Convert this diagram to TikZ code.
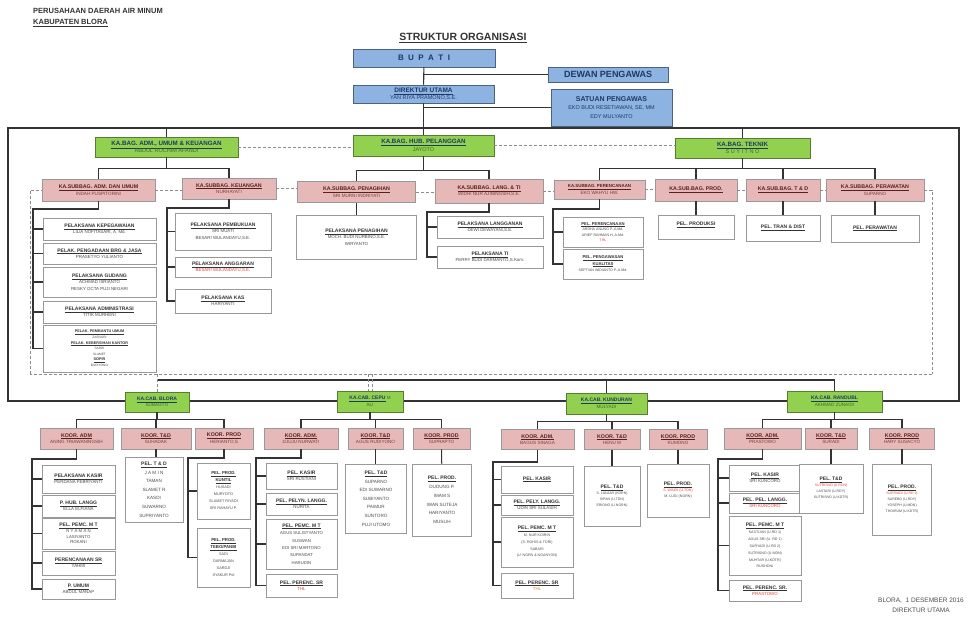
\documentclass[tikz,border=0pt]{standalone}
\usepackage{fontspec}
\setmainfont{Liberation Sans}
\usetikzlibrary{positioning,calc}
\definecolor{bupblue}{HTML}{8DB3E2}
\definecolor{bagreen}{HTML}{92D050}
\definecolor{subpink}{HTML}{E6B9B8}
\definecolor{navytxt}{HTML}{1F3864}
\definecolor{greentxt}{HTML}{3A6B28}
\definecolor{pinktxt}{HTML}{5A1F1D}
\definecolor{pinknm}{HTML}{7A3B39}
\definecolor{redtxt}{HTML}{E0443C}
\definecolor{orgtxt}{HTML}{D98A1E}
\newcommand{\ttlsz}{}
\newcommand{\jbt}[1]{{\ttlsz\color{ttl}\underline{\textbf{#1}}}}
\newcommand{\merah}[1]{\textcolor{redtxt}{#1}}

\begin{document}
\begin{tikzpicture}[x=1pt,y=1pt,
 conn/.style={draw=black!80,line width=1.1pt},
 koord/.style={draw=black!45,densely dashed,line width=0.6pt},
 bluebox/.style={draw=bupblue!55!black,fill=bupblue,text=navytxt,align=center,inner sep=1pt,line width=0.5pt,
   execute at begin node={\colorlet{ttl}{navytxt}\def\ttlsz{\fontsize{6.5}{7}\selectfont}}},
 greenbox/.style={draw=bagreen!60!black,fill=bagreen,text=greentxt,align=center,inner sep=1pt,line width=0.5pt,
   font=\fontsize{5.5}{7.5}\selectfont,execute at begin node={\colorlet{ttl}{navytxt}\def\ttlsz{\fontsize{6.2}{7}\selectfont}}},
 pinkbox/.style={draw=black!40,fill=subpink,text=pinknm,align=center,inner sep=1pt,line width=0.5pt,
   font=\fontsize{4.6}{6.5}\selectfont,execute at begin node={\colorlet{ttl}{pinktxt}\def\ttlsz{\fontsize{5.3}{6}\selectfont}}},
 pelbox/.style={draw=black!40,fill=white,text=black!70,align=center,inner sep=1pt,line width=0.6pt,
   font=\fontsize{4.4}{6.3}\selectfont,execute at begin node={\colorlet{ttl}{black!80}\def\ttlsz{\fontsize{5}{6}\selectfont}}}]
\useasboundingbox (0,0) rectangle (969,-626);
\coordinate (ftl) at (8,-128);
\coordinate (fbr) at (959,-401);
\coordinate (kr) at (932,-374);
\coordinate (kl) at (30,-374);
\coordinate (hl) at (157,-380);
\coordinate (hr) at (834.5,-380);
\draw[conn] (ftl) rectangle (fbr);
\draw[koord] (kr) -- (kl);
\draw[conn] (hl) -- (hr);

\node[font=\fontsize{7.5}{11}\selectfont\bfseries,text=black!80,align=left,anchor=north west,inner sep=0] (pdam) at (33,-8) {PERUSAHAAN DAERAH AIR MINUM\\\underline{KABUPATEN BLORA}};
\node[font=\fontsize{10.5}{12}\selectfont\bfseries,text=black!80] (judul) at (463,-38) {\underline{STRUKTUR ORGANISASI}};
\node[bluebox,minimum width=142,minimum height=18,font=\fontsize{8}{9}\selectfont\bfseries] (bupati) at (424,-58) {B~~U~~P~~A~~T~~I};
\node[bluebox,minimum width=120,minimum height=15,font=\fontsize{9}{10}\selectfont\bfseries] (dewan) at (608,-74.5) {DEWAN PENGAWAS};
\node[bluebox,minimum width=141,minimum height=18,font=\fontsize{5.5}{7}\selectfont] (dirut) at (423.5,-94) {\jbt{DIREKTUR UTAMA}\\YAN RIYA PRAMONO,S.E.};
\node[bluebox,minimum width=121,minimum height=37,font=\fontsize{5.5}{8.5}\selectfont] (satuan) at (611.5,-107.5) {{\fontsize{7}{8}\selectfont\bfseries SATUAN PENGAWAS}\\EKO BUDI RESETIAWAN, SE, MM\\EDY MULYANTO};

\node[greenbox,minimum width=143,minimum height=20] (badm) at (166.5,-147) {\jbt{KA.BAG. ADM., UMUM \& KEUANGAN}\\ABDUL ROCHIM AFANDI};
\node[greenbox,minimum width=141,minimum height=21] (bhub) at (423.5,-145.5) {\jbt{KA.BAG. HUB. PELANGGAN}\\JAYOTO};
\node[greenbox,minimum width=135,minimum height=20] (btek) at (742.5,-148) {\jbt{KA.BAG. TEKNIK}\\S U Y I T N O};

\node[pinkbox,minimum width=113,minimum height=22] (sadm) at (98.5,-190) {\jbt{KA.SUBBAG. ADM. DAN UMUM}\\INDAH PUSPITORINI};
\node[pinkbox,minimum width=94,minimum height=21] (skeu) at (229,-188.5) {\jbt{KA.SUBBAG. KEUANGAN}\\NURHAYATI};
\node[pinkbox,minimum width=118,minimum height=21] (stag) at (356.5,-192) {\jbt{KA.SUBBAG. PENAGIHAN}\\SRI MURNI INDRIYATI};
\node[pinkbox,minimum width=108,minimum height=24] (slang) at (489,-191) {\jbt{KA.SUBBAG. LANG. \& TI}\\WIDHI NUR AJININGSIH,S.E.};
\node[pinkbox,minimum width=91,minimum height=19,execute at begin node={\def\ttlsz{\fontsize{4.4}{5}\selectfont}}] (sren) at (599.5,-189.5) {\jbt{KA.SUBBAG. PERENCANAAN}\\EKO WAHYU HW.};
\node[pinkbox,minimum width=82,minimum height=22] (sprod) at (696,-190) {\jbt{KA.SUB.BAG. PROD.}};
\node[pinkbox,minimum width=74,minimum height=22] (std) at (783,-190) {\jbt{KA.SUB.BAG. T \& D}};
\node[pinkbox,minimum width=98,minimum height=22] (srwt) at (875,-190) {\jbt{KA.SUBBAG. PERAWATAN}\\SUPARNO};

\node[pelbox,minimum width=113,minimum height=22] (padm1) at (99.5,-229) {\jbt{PELAKSANA KEPEGAWAIAN}\\LILIA NOFITASARI, A. Md.};
\node[pelbox,minimum width=113,minimum height=21] (padm2) at (99.5,-253.5) {\jbt{PELAK. PENGADAAN BRG \& JASA}\\PRASETYO YULIANTO};
\node[pelbox,minimum width=113,minimum height=30] (padm3) at (99.5,-282) {\jbt{PELAKSANA GUDANG}\\ACHMAD ISRIANTO\\RESKY OCTA PUJI NEGARI};
\node[pelbox,minimum width=113,minimum height=22] (padm4) at (99.5,-312) {\jbt{PELAKSANA ADMINISTRASI}\\TITIK MURHENI};
\node[pelbox,minimum width=113,minimum height=47,font=\fontsize{3.2}{5.6}\selectfont,execute at begin node={\def\ttlsz{\fontsize{3.8}{4}\selectfont}}] (padm5) at (99.5,-348.5) {\jbt{PELAK. PEMBANTU UMUM}\\ZAENURI\\\jbt{PELAK. KEBERSIHAN KANTOR}\\SARDI\\SLAMET\\\jbt{SOPIR}\\BUDIYONO};
\node[pelbox,minimum width=96,minimum height=37] (pkeu1) at (223,-231.5) {\jbt{PELAKSANA PEMBUKUAN}\\SRI MUATI\\BESARI WULANDAYU,S.E.};
\node[pelbox,minimum width=96,minimum height=20] (pkeu2) at (223,-267) {\jbt{PELAKSANA ANGGARAN}\\\merah{BESARI WULANDAYU,S.E.}};
\node[pelbox,minimum width=96,minimum height=24] (pkeu3) at (223,-301) {\jbt{PELAKSANA KAS}\\HARIYANTI};
\node[pelbox,minimum width=120,minimum height=44] (ptag) at (356.5,-237) {\jbt{PELAKSANA PENAGIHAN}\\MOCH. BUDI NURBINO,S.E.\\WIRYANTO};
\node[pelbox,minimum width=106,minimum height=22] (plang1) at (490,-227) {\jbt{PELAKSANA LANGGANAN}\\DEWI DEWAYANI,S.E.};
\node[pelbox,minimum width=106,minimum height=22] (plang2) at (490,-257) {\jbt{PELAKSANA TI}\\FERRY BUDI DARMANTO,S.Kom.};
\node[pelbox,minimum width=80,minimum height=30,font=\fontsize{3.6}{5.6}\selectfont,execute at begin node={\def\ttlsz{\fontsize{4.2}{5}\selectfont}}] (pren1) at (603,-232) {\jbt{PEL. PERENCANAAN}\\ARDHA ANUNG P.,A.Md.\\ARIEF RAHMAN H.,A.Md.\\\merah{THL}};
\node[pelbox,minimum width=80,minimum height=30,font=\fontsize{3.6}{6.5}\selectfont,execute at begin node={\def\ttlsz{\fontsize{4.2}{5}\selectfont}}] (pren2) at (603,-264) {\jbt{PEL. PENGAWASAN}\\\jbt{KUALITAS}\\SEPTIAN WIDIANTO P.,A.Md.};
\node[pelbox,minimum width=76,minimum height=24] (pprod) at (696,-227) {\jbt{PEL. PRODUKSI}\\-};
\node[pelbox,minimum width=74,minimum height=26] (ptd) at (783,-228) {\jbt{PEL. TRAN \& DIST}};
\node[pelbox,minimum width=88,minimum height=27] (prwt) at (875,-228.5) {\jbt{PEL. PERAWATAN}};

\node[greenbox,minimum width=64,minimum height=20,font=\fontsize{4.6}{6.5}\selectfont,execute at begin node={\def\ttlsz{\fontsize{5}{6}\selectfont}}] (cblora) at (157,-402) {\jbt{KA.CAB. BLORA}\\SUBAGYO};
\node[greenbox,minimum width=66,minimum height=21,font=\fontsize{4.6}{6.5}\selectfont,execute at begin node={\def\ttlsz{\fontsize{5}{6}\selectfont}}] (ccepu) at (370,-401.5) {\jbt{KA.CAB. CEPU} M\\ALI};
\node[greenbox,minimum width=81,minimum height=21,font=\fontsize{4.6}{6.5}\selectfont,execute at begin node={\def\ttlsz{\fontsize{5}{6}\selectfont}}] (ckund) at (606.5,-403.5) {\jbt{KA.CAB. KUNDURAN}\\MULYADI};
\node[greenbox,minimum width=95,minimum height=21,font=\fontsize{4.6}{6.5}\selectfont,execute at begin node={\def\ttlsz{\fontsize{5}{6}\selectfont}}] (crandu) at (834.5,-401.5) {\jbt{KA.CAB. RANDUBL}\\AKHMAD ZUNAIDI};

\node[pinkbox,minimum width=73,minimum height=21] (kadm1) at (76.5,-438.5) {\jbt{KOOR. ADM}\\ANING TRIAWANINGSIH};
\node[pinkbox,minimum width=70,minimum height=21] (ktd1) at (156,-438.5) {\jbt{KOOR. T\&D}\\SUHADAK};
\node[pinkbox,minimum width=58,minimum height=21] (kprod1) at (224,-438.5) {\jbt{KOOR. PROD}\\HERIANTO,S};
\node[pinkbox,minimum width=74,minimum height=21] (kadm2) at (301,-438.5) {\jbt{KOOR. ADM.}\\DJUJU NURWATI};
\node[pinkbox,minimum width=55,minimum height=21] (ktd2) at (375.5,-438.5) {\jbt{KOOR. T\&D}\\AGUS RUDIYONO};
\node[pinkbox,minimum width=57,minimum height=21] (kprod2) at (441.5,-438.5) {\jbt{KOOR. PROD}\\SUPRAPTO};
\node[pinkbox,minimum width=73,minimum height=20] (kadm3) at (537.5,-439.5) {\jbt{KOOR. ADM.}\\BAGUS SINAGA};
\node[pinkbox,minimum width=56,minimum height=20] (ktd3) at (612,-439.5) {\jbt{KOOR. T\&D}\\HENU M};
\node[pinkbox,minimum width=58,minimum height=20] (kprod3) at (678,-439.5) {\jbt{KOOR. PROD}\\KUMONO};
\node[pinkbox,minimum width=77,minimum height=21] (kadm4) at (762.5,-438.5) {\jbt{KOOR. ADM.}\\PRASTOWO};
\node[pinkbox,minimum width=52,minimum height=21] (ktd4) at (831,-438.5) {\jbt{KOOR. T\&D}\\SURADI};
\node[pinkbox,minimum width=65,minimum height=21] (kprod4) at (902,-438.5) {\jbt{KOOR. PROD}\\HARY SUSACYO};

\node[pelbox,minimum width=73,minimum height=28] (b1) at (78.5,-479) {\jbt{PELAKSANA KASIR}\\PERDANA FEBRIYANTI};
\node[pelbox,minimum width=73,minimum height=22] (b2) at (78.5,-506) {\jbt{P. HUB. LANGG}\\ELLA ELFIANA};
\node[pelbox,minimum width=73,minimum height=31,font=\fontsize{4.3}{5.8}\selectfont] (b3) at (78.5,-533.5) {\jbt{PEL. PEMC. M T}\\N Y A M A N\\LASIYANTO\\ROKANI};
\node[pelbox,minimum width=73,minimum height=24] (b4) at (78.5,-563) {\jbt{PERENCANAAN SR}\\YAHMI};
\node[pelbox,minimum width=73,minimum height=20] (b5) at (78.5,-589) {\jbt{P. UMUM}\\ABDUL MANAP};
\node[pelbox,minimum width=58,minimum height=65,font=\fontsize{4.6}{8.6}\selectfont] (bt) at (154,-489.5) {\jbt{PEL. T \& D}\\J A M I N\\TAMAN\\SLAMET R\\KASDI\\SUWARNO\\SUPRIYANTO};
\node[pelbox,minimum width=53,minimum height=56,font=\fontsize{3.8}{7}\selectfont,execute at begin node={\def\ttlsz{\fontsize{4.3}{5}\selectfont}}] (bp1) at (223.5,-491) {\jbt{PEL. PROD.}\\\jbt{KUNTIL}\\HUSADI\\MURYOTO\\SLAMET RIYADI\\SRI RAHAYU P.};
\node[pelbox,minimum width=53,minimum height=59,font=\fontsize{3.8}{7}\selectfont,execute at begin node={\def\ttlsz{\fontsize{4.3}{5}\selectfont}}] (bp2) at (223.5,-557.5) {\jbt{PEL. PROD.}\\\jbt{TEBO/PANIB}\\SADI\\DARMAJAN\\SARDJI\\SYAKUR Pol};

\node[pelbox,minimum width=71,minimum height=26] (c1) at (301.5,-476) {\jbt{PEL. KASIR}\\SRI RUSTIANI};
\node[pelbox,minimum width=71,minimum height=22] (c2) at (301.5,-504) {\jbt{PEL. PELYN. LANGG.}\\NURITA};
\node[pelbox,minimum width=71,minimum height=50,font=\fontsize{4.3}{7.4}\selectfont] (c3) at (301.5,-544) {\jbt{PEL. PEMC. M T}\\AGUS SULISTYANTO\\SUSWAN\\EDI SRI MARTONO\\SUPANDAT\\HARUDIN};
\node[pelbox,minimum width=71,minimum height=23] (c4) at (301.5,-585.5) {\jbt{PEL. PERENC. SR}\\\merah{THL}};
\node[pelbox,minimum width=61,minimum height=69,font=\fontsize{4.6}{8.6}\selectfont] (ct) at (376,-498.5) {\jbt{PEL. T\&D}\\SUPARNO\\EDI SUWARNO\\SUBIYANTO\\PAIMUR\\SUNTORO\\PUJI UTOMO};
\node[pelbox,minimum width=59,minimum height=72,font=\fontsize{4.6}{8.8}\selectfont] (cp) at (442,-500) {\jbt{PEL. PROD.}\\DUDUNG P.\\IMAM S\\IWAN SUTEJA\\HARIYANTO\\MUSLIH};

\node[pelbox,minimum width=72,minimum height=27] (k1) at (537,-479.5) {\jbt{PEL. KASIR}};
\node[pelbox,minimum width=72,minimum height=20] (k2) at (537,-505) {\jbt{PEL. PELY. LANGG.}\\UDIN SRI SULASIH};
\node[pelbox,minimum width=72,minimum height=50,font=\fontsize{3.6}{6.8}\selectfont] (k3) at (537,-542) {\jbt{PEL. PEMC. M T}\\M. NUR KOIRIN\\(S. ROHIS \& TORI)\\SABARI\\(U. NGRN \& NGANYON)};
\node[pelbox,minimum width=72,minimum height=25] (k4) at (537,-585.5) {\jbt{PEL. PERENC. SR}\\\textcolor{orgtxt}{THL}};
\node[pelbox,minimum width=56,minimum height=60,font=\fontsize{3.5}{6}\selectfont] (kt) at (612,-496) {\jbt{PEL. T\&D}\\S. LANJAR (KDRN)\\SIPAN (U.TDN)\\ERIONO (U.NGRN)};
\node[pelbox,minimum width=62,minimum height=53,font=\fontsize{3.6}{6}\selectfont] (kp) at (678,-490.5) {\jbt{PEL. PROD.}\\\merah{S. WINDI (U.TDN)}\\M. LUGI (NGRN)};

\node[pelbox,minimum width=72,minimum height=26] (r1) at (765,-478) {\jbt{PEL. KASIR}\\SRI KUNCORO};
\node[pelbox,minimum width=72,minimum height=20] (r2) at (765,-503) {\jbt{PEL. PEL. LANGG.}\\\merah{SRI KUNCORO}};
\node[pelbox,minimum width=72,minimum height=59,font=\fontsize{3.6}{6.9}\selectfont] (r3) at (765,-545.5) {\jbt{PEL. PEMC. M T}\\KASTIJAN (U.RD 1)\\AGUS SRI (U. RD 1)\\SURYADI (U.RD 2)\\SUTRISNO (U.MDN)\\MUHTAR (U.KDTR)\\RUSHONI};
\node[pelbox,minimum width=72,minimum height=21] (r4) at (765,-590.5) {\jbt{PEL. PERENC. SR.}\\\merah{PRASTOWO}};
\node[pelbox,minimum width=64,minimum height=49,font=\fontsize{3.5}{6}\selectfont] (rt) at (831,-488.5) {\jbt{PEL. T\&D}\\\merah{SUTRISNO (U.RDN)}\\LASTARI (U.RDY)\\SUTRISNO (U.KDTR)};
\node[pelbox,minimum width=59,minimum height=71,font=\fontsize{3.5}{6}\selectfont] (rp) at (902,-499.5) {\jbt{PEL. PROD.}\\\merah{SUPRIADI (U.RD 2)}\\SAREBO (U.RDY)\\YOSEPH (U.MDN)\\THOIRUM (U.KDTR)};

\node[font=\fontsize{6.5}{10}\selectfont,text=black!70,align=center] (ttd) at (921,-605) {BLORA,\ \ 1 DESEMBER 2016\\DIREKTUR UTAMA};

\draw[conn] (bupati) -- (dirut);
\draw[conn] (dewan.west) -- (dewan.west -| bupati.south);
\draw[conn] (satuan.west) -- (satuan.west -| dirut.south);
\draw[conn] (dirut.south) -- (dirut.south |- ftl);
\foreach \b in {badm,bhub,btek} \draw[conn] (\b.north) -- (\b.north |- ftl);
\draw[koord] (badm.east) -- (badm.east -| bhub.west);
\draw[koord] (bhub.east) -- (bhub.east -| btek.west);
\foreach \s in {sadm,skeu} \draw[conn] (badm.south) -- ++(0,-11) -| (\s.north);
\foreach \s in {stag,slang} \draw[conn] (bhub.south) -- ++(0,-14) -| (\s.north);
\foreach \s in {sren,sprod,std,srwt} \draw[conn] (btek.south) -- ++(0,-10) -| (\s.north);
\foreach \a/\b in {sadm/skeu,skeu/stag,stag/slang,slang/sren,sren/sprod,sprod/std,std/srwt} \draw[koord] (\a.east) -- (\a.east -| \b.west);
\draw[koord] (srwt.east) -| (kr);
\draw[koord] (kl) |- (sadm.west);

\coordinate (ladm) at (33,-209);
\draw[conn] (sadm.south) |- (ladm) |- (padm5.west);
\foreach \p in {padm1,padm2,padm3,padm4} \draw[conn] (\p.west) -- (\p.west -| ladm);
\coordinate (lkeu) at (167,-208);
\draw[conn] (skeu.south) |- (lkeu) |- (pkeu3.west);
\foreach \p in {pkeu1,pkeu2} \draw[conn] (\p.west) -- (\p.west -| lkeu);
\draw[conn] (stag) -- (ptag);
\coordinate (llang) at (427,-212);
\draw[conn] (slang.south) |- (llang) |- (plang2.west);
\draw[conn] (plang1.west) -- (plang1.west -| llang);
\coordinate (lren) at (553,-209);
\draw[conn] (sren.south) |- (lren) |- (pren2.west);
\draw[conn] (pren1.west) -- (pren1.west -| lren);
\draw[conn] (sprod) -- (pprod);
\draw[conn] (std) -- (ptd);
\draw[conn] (srwt) -- (prwt);

\draw[koord] (cblora.north |- kl) -- (cblora.north);
\draw[koord] ([xshift=-2pt]ccepu.north |- kl) -- ([xshift=-2pt]ccepu.north);
\draw[koord] ([xshift=2pt]ccepu.north |- kl) -- ([xshift=2pt]ccepu.north);
\draw[conn] (ckund.north |- hl) -- (ckund.north);
\draw[conn] (crandu.north |- hl) -- (crandu.north);

\foreach \k in {kadm1,ktd1,kprod1} \draw[conn] (cblora.south) -- ++(0,-7) -| (\k.north);
\foreach \k in {kadm2,ktd2,kprod2} \draw[conn] (ccepu.south) -- ++(0,-7) -| (\k.north);
\foreach \k in {kadm3,ktd3,kprod3} \draw[conn] (ckund.south) -- ++(0,-7) -| (\k.north);
\foreach \k in {kadm4,ktd4,kprod4} \draw[conn] (crandu.south) -- ++(0,-7) -| (\k.north);

\coordinate (lb) at (32,-459);
\draw[conn] (kadm1.south) |- (lb) |- (b5.west);
\foreach \p in {b1,b2,b3,b4} \draw[conn] (\p.west) -- (\p.west -| lb);
\draw[conn] (ktd1.south) -- (ktd1.south |- bt.north);
\coordinate (lbp) at (188,-458);
\draw[conn] (kprod1.south) |- (lbp) |- (bp2.west);
\draw[conn] (bp1.west) -- (bp1.west -| lbp);

\coordinate (lc) at (256,-458);
\draw[conn] (kadm2.south) |- (lc) |- (c4.west);
\foreach \p in {c1,c2,c3} \draw[conn] (\p.west) -- (\p.west -| lc);
\draw[conn] (ktd2.south) -- (ktd2.south |- ct.north);
\draw[conn] (kprod2) -- (cp);

\coordinate (lk) at (493,-462);
\draw[conn] (kadm3.south) |- (lk) |- (k4.west);
\foreach \p in {k1,k2,k3} \draw[conn] (\p.west) -- (\p.west -| lk);
\draw[conn] (ktd3) -- (kt);
\draw[conn] (kprod3) -- (kp);

\coordinate (lr) at (718,-459);
\draw[conn] (kadm4.south) |- (lr) |- (r4.west);
\foreach \p in {r1,r2,r3} \draw[conn] (\p.west) -- (\p.west -| lr);
\draw[conn] (ktd4) -- (rt);
\draw[conn] (kprod4) -- (rp);
\end{tikzpicture}
\end{document}
